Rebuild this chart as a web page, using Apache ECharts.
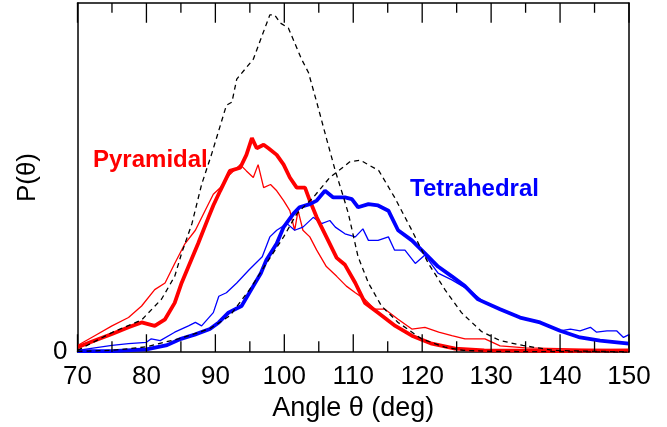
<!DOCTYPE html>
<html>
<head>
<meta charset="utf-8">
<script src="https://cdn.jsdelivr.net/npm/echarts@6/dist/echarts.min.js"></script>
<style>html,body{margin:0;padding:0;background:#fff}#c{width:667px;height:427px}</style>
</head>
<body>
<div id="c"></div>
<script>
// Angle (deg) ticks
const xTicks = [70, 80, 90, 100, 110, 120, 130, 140, 150];
const xMinorTicks = [75, 85, 95, 105, 115, 125, 135, 145];

// Pyramidal, thick red
const pyrThickX = [70, 72.5, 75, 77.4, 79.3, 81.2, 82.7, 84.1, 85.1, 86.1, 87.5, 89, 89.7, 90.7, 92.1, 93.6, 94.5, 95.3, 96, 97, 97.7, 98.9, 99.9, 100.8, 101.8, 103, 103.7, 104.7, 106.1, 107.6, 108.8, 110.3, 111.7, 113.6, 116.1, 118.5, 121.4, 124.8, 129, 135, 140, 145, 150];
const pyrThickY = [1.4, 3.3, 5.2, 7.1, 8.5, 7.5, 9.4, 14.1, 19.8, 24.5, 31.1, 38.6, 42, 46.2, 51.9, 52.8, 56.5, 61.3, 58.4, 59.4, 58.4, 56.5, 53.7, 50, 47.1, 47.1, 43.4, 38.6, 33, 27, 25, 19.8, 14.1, 11.3, 7.5, 4.7, 2.4, 1, 0.5, 0.4, 0.3, 0.4, 0.5];

// Pyramidal, thin red
const pyrThinX = [70, 72.5, 75, 77.4, 79.3, 81.2, 82.7, 84.1, 85.6, 87.1, 88.5, 89.7, 90.7, 92.1, 93.6, 94.5, 95.5, 96.2, 97, 98, 98.9, 99.9, 100.8, 101.5, 102, 102.7, 103.7, 104.7, 106.1, 107.6, 109, 110.3, 111.7, 113.1, 114.6, 116.5, 118.5, 120.4, 122.4, 124.3, 126.2, 129.1, 131.3, 135, 140, 145, 150];
const pyrThinY = [1.9, 4.7, 7.5, 9.9, 13.2, 17.9, 19.8, 25.4, 31.1, 34.9, 40.5, 45.2, 47.1, 50.9, 53.7, 51.9, 50, 53.7, 47.1, 48, 46.2, 43.4, 40.5, 34.9, 40.5, 34.9, 33, 29.2, 24.5, 21.7, 18.9, 17, 15.1, 12.3, 12.3, 9.4, 6.6, 7.1, 5.7, 4.7, 3.8, 3.8, 1.8, 1.2, 1, 0.8, 0.6];

// Tetrahedral, thick blue
const tetThickX = [70, 75, 80, 83, 85, 87, 89.2, 90.5, 91.9, 93.8, 95.2, 96.6, 97.4, 98.9, 99.9, 101.3, 102.2, 103.7, 104.7, 105.9, 107.1, 108.8, 109.8, 110.7, 112.2, 113.6, 115.1, 116.5, 118.5, 120.4, 122.3, 124.3, 126.2, 128.1, 131.3, 134.2, 137.1, 140, 142.9, 145.8, 150];
const tetThickY = [0.3, 0.3, 0.8, 2, 3.8, 5, 6.6, 8.5, 11.3, 13.2, 17.9, 22.6, 26.4, 31.1, 35.8, 39.6, 41.5, 42.4, 43.4, 46.2, 44.3, 44.3, 43.8, 41.5, 42.4, 42, 40.5, 34.9, 32, 28.3, 24.5, 21.7, 18.9, 15.1, 12.3, 9.9, 8.5, 6.1, 4.2, 3.3, 2.4];

// Tetrahedral, thin blue
const tetThinX = [70, 75, 77.4, 80, 80.7, 82, 84.1, 86.1, 87.1, 88, 89.7, 90.5, 91.6, 93.1, 94.9, 96.8, 97.9, 98.9, 100.4, 101.5, 102.7, 104.2, 105.4, 106.6, 107.4, 108.8, 110.3, 111.4, 112.2, 113.6, 115.1, 116, 117.5, 119, 120.4, 122.3, 124.3, 126.7, 129.1, 131.3, 134.2, 137.1, 140, 141.5, 142.9, 144.4, 145.3, 146.8, 148.2, 149.2, 150];
const tetThinY = [0.5, 1.9, 2.4, 2.8, 3.8, 3.3, 5.7, 7.5, 8.5, 7.5, 11.3, 16, 17, 19.8, 23.6, 27.3, 33, 34.9, 36.8, 34.9, 35.8, 38.6, 36.8, 37.7, 35.8, 33.9, 33, 35.3, 32, 32, 33, 29.2, 29.2, 25.4, 27.8, 22.6, 20.7, 17.9, 14.1, 12.3, 9.9, 8.5, 6.1, 6.6, 6.1, 7.1, 5.7, 6.1, 6.1, 4.2, 5];

// Reference (dashed), narrow peak
const refNarrowX = [70, 75, 79.3, 82.2, 84.1, 85.1, 86.6, 88, 89.5, 91.6, 92.4, 93.1, 95.5, 97.9, 98.6, 99.4, 100.6, 102.5, 103.5, 104.7, 106.1, 107.4, 108.6, 109.3, 110.7, 112.2, 114.1, 116.5, 119.9, 123.3, 126, 130, 140, 150];
const refNarrowY = [0.5, 5.6, 9.2, 15.2, 21.7, 28.3, 36.8, 48, 57, 70.7, 71.6, 78.2, 83.9, 96.6, 96.6, 94.3, 92.8, 83.9, 80.1, 71.6, 61.3, 51.9, 44.3, 39.6, 27.3, 19.8, 13.2, 8.5, 3.8, 1.4, 0.5, 0.2, 0.1, 0];

// Reference (dashed), wide peak
const refWideX = [70, 75, 80, 85, 89.2, 92.1, 95, 97.4, 99.9, 101.8, 104.2, 106.6, 109.5, 111, 113.7, 116, 118.5, 120.9, 123.3, 125.7, 128.6, 131.3, 134.6, 139, 145, 150];
const refWideY = [0.2, 0.5, 1.5, 4, 6.7, 10.4, 18, 25.4, 33, 39.6, 44.3, 50, 54.5, 55, 52, 44.3, 34.9, 25.4, 17.9, 11.3, 5.9, 3.3, 1.9, 0.5, 0.2, 0.1];

const zip = (xs, ys) => xs.map((x, i) => [x, ys[i]]);
const FONT = 'Liberation Sans';
const X_MIN = xTicks[0], X_MAX = xTicks[xTicks.length - 1];
const Y_MIN = 0, Y_MAX = 100;

const L = 77.5, R = 38, T = 3, B = 70.3, H = 427;
const PLOT_H = H - T - B;
const px2val = px => px * (Y_MAX - Y_MIN) / PLOT_H;

// inside tick marks drawn as broken line segments at the tick values
function tickSeries(values, lenPx, fromTop) {
  const d = [];
  const len = px2val(lenPx);
  values.forEach(v => {
    if (fromTop) { d.push([v, Y_MAX], [v, Y_MAX - len]); }
    else { d.push([v, Y_MIN], [v, Y_MIN + len]); }
    d.push([v, '-']);
  });
  return {type: 'line', data: d, showSymbol: false, connectNulls: false, silent: true, z: 4,
    clip: false, lineStyle: {color: '#000', width: 1.3}};
}

const chart = echarts.init(document.getElementById('c'), null, {renderer: 'canvas'});
const axisLineStyle = {color: '#000', width: 1.5};

chart.setOption({
  animation: false,
  backgroundColor: '#fff',
  grid: {left: L, right: R, top: T, bottom: B, containLabel: false},
  xAxis: [{
    type: 'value', min: X_MIN, max: X_MAX, interval: 10, position: 'bottom',
    axisLine: {show: true, onZero: false, lineStyle: axisLineStyle},
    axisTick: {show: false}, splitLine: {show: false},
    axisLabel: {color: '#000', fontSize: 26, fontFamily: FONT, margin: 12},
    name: 'Angle θ (deg)', nameLocation: 'middle', nameGap: 40,
    nameTextStyle: {color: '#000', fontSize: 27, fontFamily: FONT}
  }, {
    type: 'value', min: X_MIN, max: X_MAX, interval: 10, position: 'top',
    axisLine: {show: true, onZero: false, lineStyle: axisLineStyle},
    axisTick: {show: false}, splitLine: {show: false}, axisLabel: {show: false}
  }],
  yAxis: [{
    type: 'value', min: Y_MIN, max: Y_MAX, interval: 100, position: 'left',
    axisLine: {show: true, onZero: false, lineStyle: axisLineStyle},
    axisTick: {show: false}, splitLine: {show: false},
    axisLabel: {color: '#000', fontSize: 26, fontFamily: FONT, margin: 10,
      formatter: v => (v === 0 ? '0' : '')},
    name: 'P(θ)', nameLocation: 'middle', nameGap: 37, nameRotate: 90,
    nameTextStyle: {color: '#000', fontSize: 26, fontFamily: FONT}
  }, {
    type: 'value', min: Y_MIN, max: Y_MAX, position: 'right',
    axisLine: {show: true, onZero: false, lineStyle: axisLineStyle},
    axisTick: {show: false}, axisLabel: {show: false}, splitLine: {show: false}
  }],
  series: [
    tickSeries(xTicks, 18, false),
    tickSeries(xMinorTicks, 11, false),
    tickSeries(xTicks, 20, true),
    tickSeries(xMinorTicks, 10, true),
    {type: 'line', data: zip(pyrThinX, pyrThinY), showSymbol: false, lineStyle: {color: '#ff0000', width: 1.3}},
    {type: 'line', data: zip(tetThinX, tetThinY), showSymbol: false, lineStyle: {color: '#0000ff', width: 1.3}},
    {type: 'line', data: zip(pyrThickX, pyrThickY), showSymbol: false, lineStyle: {color: '#ff0000', width: 3.8}},
    {type: 'line', data: zip(tetThickX, tetThickY), showSymbol: false, lineStyle: {color: '#0000ff', width: 3.8}},
    {type: 'line', data: zip(refNarrowX, refNarrowY), showSymbol: false, lineStyle: {color: '#000', width: 1.3, type: [5, 4]}},
    {type: 'line', data: zip(refWideX, refWideY), showSymbol: false, lineStyle: {color: '#000', width: 1.3, type: [5, 4]}}
  ],
  graphic: [
    {type: 'text', left: 93, top: 148, style: {text: 'Pyramidal', fill: '#ff0000', font: 'bold 24px "Liberation Sans"'}},
    {type: 'text', left: 410, top: 177, style: {text: 'Tetrahedral', fill: '#0000ff', font: 'bold 24px "Liberation Sans"'}}
  ]
});
</script>
</body>
</html>
